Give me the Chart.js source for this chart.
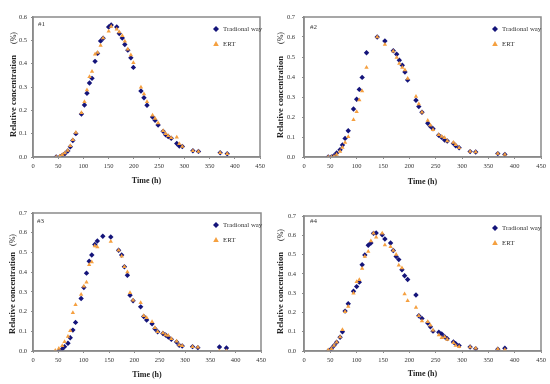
<!DOCTYPE html>
<html>
<head>
<meta charset="utf-8">
<script src="https://cdn.jsdelivr.net/npm/chart.js@4/dist/chart.umd.min.js"></script>
<style>
body { margin: 0; background: #fff; }
#wrap { position: relative; width: 550px; height: 384px; }
.cell { position: absolute; width: 275px; height: 192px; }
</style>
</head>
<body>
<div id="wrap">
  <div class="cell" style="left:0;top:0"><canvas id="c1"></canvas></div>
  <div class="cell" style="left:275px;top:0"><canvas id="c2"></canvas></div>
  <div class="cell" style="left:0;top:192px"><canvas id="c3"></canvas></div>
  <div class="cell" style="left:275px;top:192px"><canvas id="c4"></canvas></div>
</div>
<script>
// data (time in h, relative concentration in %)
var time1 = [46,53,58,63,69,74,79,85,96,102,107,112,117,123,128,134,139,150,155,166,171,177,182,188,194,199,214,220,226,237,242,248,258,263,268,274,285,290,296,317,328,371,385];
var trad1 = [0,0,0.007,0.014,0.026,0.044,0.071,0.100,0.184,0.223,0.273,0.317,0.337,0.410,0.444,0.497,0.509,0.557,0.566,0.557,0.529,0.510,0.482,0.458,0.425,0.384,0.283,0.254,0.222,0.171,0.157,0.137,0.110,0.095,0.088,0.080,0.058,0.047,0.045,0.027,0.024,0.018,0.014];
var ert1 = [0,0.003,0.010,0.017,0.028,0.048,0.074,0.105,0.190,0.237,0.287,0.344,0.366,0.440,0.448,0.478,0.510,0.539,0.559,0.547,0.536,0.520,0.496,0.462,0.437,0.404,0.299,0.270,0.237,0.179,0.165,0.146,0.112,0.100,0.091,0.082,0.085,0.057,0.045,0.027,0.024,0.018,0.014];

var time2 = [46,52,57,62,68.5,73,78,84,94,100,105,110.4,118.7,139,153.6,169.5,176,181,186.6,191.7,196.8,212.6,218,224,235,240,245,255.8,261.5,267,272,283.7,288,294.5,315.4,326,368,381.4];
var trad2 = [0,0,0.007,0.020,0.036,0.060,0.093,0.131,0.240,0.289,0.338,0.398,0.521,0.600,0.580,0.531,0.514,0.484,0.459,0.425,0.385,0.284,0.252,0.224,0.169,0.153,0.141,0.109,0.098,0.085,0.080,0.068,0.056,0.046,0.027,0.025,0.017,0.013];
var ert2 = [0,0,0.003,0.012,0.028,0.048,0.073,0.101,0.186,0.226,0.285,0.330,0.448,0.600,0.562,0.529,0.497,0.468,0.448,0.435,0.393,0.302,0.265,0.224,0.182,0.159,0.136,0.111,0.103,0.096,0.080,0.073,0.061,0.046,0.027,0.025,0.018,0.013];

var time3 = [44,51,57.7,62.3,69,73.5,78.7,84,95,100.4,105.6,110.9,116,122,127,137.8,153.5,169,175,180.4,186.3,191.5,197.5,212.5,218.5,224.3,235,240.7,246,256.5,261.7,267,273,283.4,288.6,294.5,314.9,325.4,368,381.8];
var trad3 = [null,0,0.010,0.022,0.039,0.067,0.106,0.145,0.266,0.322,0.395,0.455,0.487,0.540,0.558,0.582,0.578,0.511,0.487,0.427,0.384,0.283,0.255,0.224,0.175,0.157,0.138,0.113,0.098,0.089,0.081,0.071,0.059,0.046,0.029,0.025,0.022,0.017,0.020,0.015];
var ert3 = [0.003,0.013,0.027,0.047,0.074,0.103,0.194,0.234,0.287,0.329,0.349,0.437,0.452,0.533,0.528,null,0.555,0.511,0.480,0.427,0.401,0.295,0.258,0.245,0.179,0.169,0.148,0.118,0.098,0.091,0.081,0.078,0.062,0.049,0.030,0.027,0.022,0.019,0,0];

var time4 = [46,52,57,62,68.5,73,78,84,94,100,105,110.4,115.5,122,127,132,137,148.5,153.6,164.4,169.5,175,180,186,191,196.8,212.6,218,224,235,240,245,256,261.5,267,272,283.7,288,294.5,315.4,326,368,381.4];
var trad4 = [0,0.012,0.028,0.045,0.071,0.100,0.207,0.245,0.310,0.334,0.357,0.447,0.498,0.548,0.560,0.610,0.612,0.603,0.581,0.560,0.521,0.490,0.474,0.421,0.390,0.371,0.290,0.183,0.169,0.145,0.126,0.103,0.097,0.088,0.074,0.064,0.047,0.038,0.028,0.021,0.012,0.009,0.014];
var ert4 = [0.005,0.012,0.028,0.045,0.072,0.110,0.203,0.231,0.300,0.359,0.369,0.428,0.490,0.516,0.571,0.610,0.590,0.610,0.550,0.540,0.521,0.500,0.445,0.431,0.295,0.260,0.226,0.183,0.155,0.152,0.133,0.107,0.083,0.069,0.072,0.060,0.043,0.029,0.022,0.021,0.014,0.010,0.007];

var seriesNames = ['Tradional way', 'ERT'];
var xTitle = 'Time (h)';
var yTitle = 'Relative concentration';
var yUnit = '(%)';

var SERIF = '"Liberation Serif", "DejaVu Serif", serif';
var BLUE = '#14147a';
var ORANGE = '#f5a040';

function pts(t, v) {
  var out = [];
  for (var i = 0; i < t.length; i++) {
    if (v[i] !== null) out.push({x: t[i], y: v[i]});
  }
  return out;
}

function marker(ctx, kind, x, y) {
  ctx.beginPath();
  if (kind === 'diamond') {
    ctx.fillStyle = BLUE;
    ctx.moveTo(x, y - 3); ctx.lineTo(x + 3, y); ctx.lineTo(x, y + 3); ctx.lineTo(x - 3, y);
  } else {
    ctx.fillStyle = ORANGE;
    ctx.moveTo(x, y - 3); ctx.lineTo(x + 2.8, y + 2); ctx.lineTo(x - 2.8, y + 2);
  }
  ctx.closePath();
  ctx.fill();
}

var decor = {
  id: 'decor',
  afterDraw: function(chart, args, o) {
    var ctx = chart.ctx, a = chart.chartArea;
    ctx.save();
    ctx.strokeStyle = '#8a8a8a';
    ctx.lineWidth = 1.5;
    ctx.strokeRect(a.left, a.top, a.right - a.left, a.bottom - a.top);

    ctx.fillStyle = '#333';
    ctx.font = '7px ' + SERIF;
    ctx.textAlign = 'left';
    ctx.textBaseline = 'middle';
    ctx.fillText(o.tag, o.tagX, o.tagY);

    // legend inside the plot
    marker(ctx, 'diamond', o.legX, o.legY);
    marker(ctx, 'tri', o.legX, o.legY + 15);
    ctx.fillStyle = '#333';
    ctx.font = '6.8px ' + SERIF;
    ctx.fillText(seriesNames[0], o.legX + 7, o.legY);
    ctx.fillText(seriesNames[1], o.legX + 7, o.legY + 15);

    // axis titles
    ctx.fillStyle = '#222';
    ctx.font = 'bold 8px ' + SERIF;
    ctx.textAlign = 'center';
    ctx.fillText(xTitle, (a.left + a.right) / 2, o.xTitleY);

    ctx.translate(o.yTitleX, o.yTitleY);
    ctx.rotate(-Math.PI / 2);
    ctx.font = 'bold 8.5px ' + SERIF;
    ctx.fillText(yTitle, 0, 0);
    ctx.font = '8px ' + SERIF;
    ctx.fillText(yUnit, o.unitOff, 0);
    ctx.restore();
  }
};

function makeChart(id, t, tr, er, ymax, o) {
  var W = 275, H = 192;
  new Chart(document.getElementById(id), {
    type: 'scatter',
    data: {
      datasets: [
        { label: seriesNames[0], data: pts(t, tr), pointStyle: 'rectRot', pointRadius: 2.7,
          backgroundColor: BLUE, borderColor: BLUE, borderWidth: 0, order: 1 },
        { label: seriesNames[1], data: pts(t, er), pointStyle: 'triangle', pointRadius: 2.5,
          backgroundColor: ORANGE, borderColor: ORANGE, borderWidth: 0, order: 0 }
      ]
    },
    options: {
      responsive: true,
      maintainAspectRatio: false,
      animation: false,
      layout: { padding: { left: 0, top: o.top, right: W - o.right, bottom: 0 } },
      plugins: { legend: { display: false }, tooltip: { enabled: false }, decor: o },
      scales: {
        x: {
          type: 'linear', min: 0, max: 450,
          afterFit: function(s) { s.height = H - o.bottom; },
          ticks: { stepSize: 50, font: { family: SERIF, size: 6.5 }, color: '#333', padding: 3, maxRotation: 0 },
          grid: { drawOnChartArea: false, drawTicks: true, tickLength: 2, color: '#8a8a8a' },
          border: { color: '#8a8a8a', width: 1.5 }
        },
        y: {
          min: 0, max: ymax,
          afterFit: function(s) { s.width = o.left; },
          ticks: { stepSize: 0.1, font: { family: SERIF, size: 6.5 }, color: '#333', padding: o.tickPad,
            callback: function(v) { return v.toFixed(1); } },
          grid: { drawOnChartArea: false, drawTicks: true, tickLength: 2, color: '#8a8a8a' },
          border: { color: '#8a8a8a', width: 1.5 }
        }
      }
    },
    plugins: [decor]
  });
}

makeChart('c1', time1, trad1, ert1, 0.6, {left: 33, right: 260, top: 17, bottom: 157, tickPad: 4,
  tag: '#1', tagX: 38, tagY: 24, legX: 216, legY: 29, xTitleY: 181, yTitleX: 14, yTitleY: 96, unitOff: 58});
makeChart('c2', time2, trad2, ert2, 0.7, {left: 29, right: 266, top: 17, bottom: 157, tickPad: 7,
  tag: '#2', tagX: 35, tagY: 27, legX: 220, legY: 29, xTitleY: 182, yTitleX: 6, yTitleY: 97, unitOff: 59});
makeChart('c3', time3, trad3, ert3, 0.7, {left: 33, right: 261, top: 21, bottom: 159, tickPad: 4,
  tag: '#3', tagX: 37, tagY: 29, legX: 216, legY: 33, xTitleY: 183, yTitleX: 13, yTitleY: 101, unitOff: 53});
makeChart('c4', time4, trad4, ert4, 0.7, {left: 29, right: 266, top: 24, bottom: 159, tickPad: 6,
  tag: '#4', tagX: 35, tagY: 29, legX: 220, legY: 36, xTitleY: 182, yTitleX: 6, yTitleY: 101, unitOff: 58});
</script>
</body>
</html>
